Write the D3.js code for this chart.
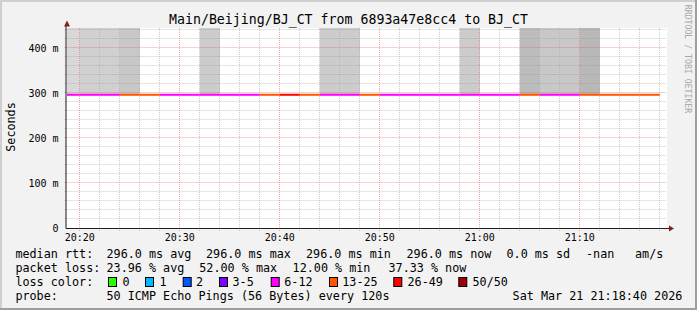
<!DOCTYPE html>
<html>
<head>
<meta charset="utf-8">
<script src="https://cdn.jsdelivr.net/npm/d3@7"></script>
<style>
  body { margin: 0; background: #fff; }
  svg { display: block; }
  text { font-family: "DejaVu Sans Mono", monospace; white-space: pre; }
</style>
</head>
<body>
<script>
// ---- data ----
const day = "2026-03-21"
const startTime = "20:18:40"
const endTime = "21:18:40"

// 2-minute steps (start of each step)
const stepStart = ["20:18", "20:20", "20:22", "20:24", "20:26", "20:28", "20:30", "20:32", "20:34", "20:36",
                   "20:38", "20:40", "20:42", "20:44", "20:46", "20:48", "20:50", "20:52", "20:54", "20:56",
                   "20:58", "21:00", "21:02", "21:04", "21:06", "21:08", "21:10", "21:12", "21:14", "21:16"]
// median rtt, seconds
const medianRtt = [0.296, 0.296, 0.296, 0.296, 0.296, 0.296, 0.296, 0.296, 0.296, 0.296,
                   0.296, 0.296, 0.296, 0.296, 0.296, 0.296, 0.296, 0.296, 0.296, 0.296,
                   0.296, 0.296, 0.296, 0.296, 0.296, 0.296, 0.296, 0.296, 0.296, 0.296]
// lost pings out of 50
const lostPings = [8, 10, 9, 14, 13, 11, 10, 6, 10, 10,
                   15, 26, 14, 9, 11, 13, 10, 8, 10, 11,
                   9, 10, 10, 16, 10, 11, 14, 15, 17, 19]
// smoke: highest ping (s, off the scale) and density (0 = none)
const smokeMax = [0.5, 0.5, 0.5, 0.5, 0, 0, 0, 0.5, 0, 0,
                  0, 0, 0, 0.5, 0.5, 0, 0, 0, 0, 0,
                  0.5, 0, 0, 0.5, 0.5, 0.5, 0.5, 0, 0, 0]
const smokeDensity = [1, 2, 2, 3, 0, 0, 0, 2.5, 0, 0,
                      0, 0, 0, 2.5, 2.5, 0, 0, 0, 0, 0,
                      2.5, 0, 0, 4.5, 3, 3, 5, 0, 0, 0]

const yTicks = [0, 0.1, 0.2, 0.3, 0.4]
const yMax = 0.4444

const lossLabels = ["0", "1", "2", "3-5", "6-12", "13-25", "26-49", "50/50"]
const lossBreaks = [1, 2, 3, 6, 13, 26, 50]
const lossColors = ["#26ff00", "#00b8ff", "#0059ff", "#7e00ff", "#ff00ff", "#ff5500", "#ff0000", "#a10000"]

const titleText = "Main/Beijing/BJ_CT from 6893a47e8cc4 to BJ_CT"
const yLabel = "Seconds"
const watermark = "RRDTOOL / TOBI OETIKER"
const rttRow = ["median rtt:", "296.0 ms avg", "296.0 ms max", "296.0 ms min", "296.0 ms now", "0.0 ms sd", "-nan", "am/s"]
const lossRow = ["packet loss:", "23.96 % avg", "52.00 % max", "12.00 % min", "37.33 % now"]
const colorRowLabel = "loss color:"
const probeRow = ["probe:", "50 ICMP Echo Pings (56 Bytes) every 120s"]
const stamp = "Sat Mar 21 21:18:40 2026"

// ---- layout ----
const W = 697, H = 310
const plot = { left: 66.5, right: 666.5, top: 28, bottom: 228 }
const rttCols = [15.4, 106.5, 206, 306, 406.5, 506.5, 586, 635]
const lossCols = [15.4, 106.5, 199.3, 292.6, 388.5]
const boxCols = [108, 145, 182.7, 219, 270.7, 329, 393.3, 458.3]
const boxLabelCols = [122.5, 159.6, 196, 232.5, 284.3, 342.3, 407.5, 472.5]

const parse = d3.utcParse("%Y-%m-%d %H:%M:%S")
const toDate = s => parse(day + " " + (s.length === 5 ? s + ":00" : s))

let svg = d3.select("body").append("svg")
    .attr("width", W)
    .attr("height", H)

// background + 3D border
svg.append("rect").attr("width", W).attr("height", H).attr("fill", "#f2f2f2")
svg.append("rect").attr("width", W).attr("height", 2).attr("fill", "#cfcfcf")
svg.append("rect").attr("width", 2).attr("height", H).attr("fill", "#cfcfcf")
svg.append("rect").attr("x", W - 2).attr("width", 2).attr("height", H).attr("fill", "#9e9e9e")
svg.append("rect").attr("y", H - 2).attr("width", W).attr("height", 2).attr("fill", "#9e9e9e")

let x = d3.scaleUtc()
    .domain([toDate(startTime), toDate(endTime)])
    .range([plot.left, plot.right])

let y = d3.scaleLinear()
    .domain([0, yMax])
    .range([plot.bottom, plot.top])

let lossColor = d3.scaleThreshold().domain(lossBreaks).range(lossColors)
let smokeColor = d3.scaleLinear().domain([1, 5]).range(["#d8d8d8", "#b8b8b8"])

// canvas
svg.append("rect")
    .attr("x", plot.left + 0.5).attr("y", plot.top)
    .attr("width", plot.right - plot.left).attr("height", plot.bottom - plot.top)
    .attr("fill", "#fff")

svg.append("clipPath").attr("id", "clip")
    .append("rect")
    .attr("x", plot.left + 0.5).attr("y", plot.top)
    .attr("width", plot.right - plot.left).attr("height", plot.bottom - plot.top)

let steps = stepStart.map((s, i) => {
    let t0 = toDate(s)
    return { t0: t0, t1: d3.utcMinute.offset(t0, 2), rtt: medianRtt[i], lost: lostPings[i], smax: smokeMax[i], dens: smokeDensity[i] }
})

// smoke
svg.append("g").attr("clip-path", "url(#clip)")
    .selectAll("rect")
    .data(steps.filter(d => d.dens > 0))
    .join("rect")
    .attr("x", d => x(d.t0))
    .attr("width", d => x(d.t1) - x(d.t0))
    .attr("y", d => y(d.smax))
    .attr("height", d => y(d.rtt) - y(d.smax))
    .attr("fill", d => smokeColor(d.dens))

// grid
let grid = svg.append("g").attr("fill", "none").attr("stroke-dasharray", "1,1")
let minorT = d3.utcMinute.every(2).range(x.domain()[0], x.domain()[1])
let majorT = d3.utcMinute.every(10).range(x.domain()[0], x.domain()[1])
let px = t => Math.floor(x(t)) + 0.5
let py = v => Math.floor(y(v)) + 0.5

grid.selectAll(".vmin").data(minorT.filter(t => t.getUTCMinutes() % 10 !== 0))
    .join("line").attr("class", "vmin")
    .attr("x1", px).attr("x2", px).attr("y1", plot.top).attr("y2", plot.bottom + 3)
    .attr("stroke", "rgba(143,143,143,0.45)")

let hMinor = d3.range(1, 23).map(i => i * 0.02).filter(v => Math.round(v * 100) % 10 !== 0)
grid.selectAll(".hmin").data(hMinor)
    .join("line").attr("class", "hmin")
    .attr("x1", plot.left - 2).attr("x2", plot.right).attr("y1", py).attr("y2", py)
    .attr("stroke", "rgba(143,143,143,0.45)")

grid.selectAll(".vmaj").data(majorT)
    .join("line").attr("class", "vmaj")
    .attr("x1", px).attr("x2", px).attr("y1", plot.top).attr("y2", plot.bottom + 3)
    .attr("stroke", "rgba(222,79,79,0.5)")

grid.selectAll(".hmaj").data(yTicks.filter(v => v > 0))
    .join("line").attr("class", "hmaj")
    .attr("x1", plot.left - 2).attr("x2", plot.right).attr("y1", py).attr("y2", py)
    .attr("stroke", "rgba(222,79,79,0.5)")

// median line coloured by loss
svg.append("g").attr("clip-path", "url(#clip)")
    .selectAll("line")
    .data(steps)
    .join("line")
    .attr("x1", d => x(d.t0))
    .attr("x2", d => x(d.t1))
    .attr("y1", d => y(d.rtt))
    .attr("y2", d => y(d.rtt))
    .attr("stroke", d => lossColor(d.lost))
    .attr("stroke-width", 2)

// axes
svg.append("line")
    .attr("x1", plot.left - 0.5).attr("x2", plot.left - 0.5)
    .attr("y1", 26).attr("y2", plot.bottom + 0.5)
    .attr("stroke", "#1f1f1f")
svg.append("line")
    .attr("x1", plot.left - 0.5).attr("x2", 669)
    .attr("y1", plot.bottom + 0.5).attr("y2", plot.bottom + 0.5)
    .attr("stroke", "#1f1f1f")
svg.append("path").attr("d", "M64,26.5L70,26.5L67,20.5Z").attr("fill", "#801f1f")
svg.append("path").attr("d", "M669,225.5L669,231.5L674,228.5Z").attr("fill", "#801f1f")

// tick labels
svg.append("g").selectAll("text")
    .data(majorT)
    .join("text")
    .attr("x", d => x(d))
    .attr("y", 241)
    .attr("text-anchor", "middle")
    .attr("font-size", 10)
    .text(d3.utcFormat("%H:%M"))

svg.append("g").selectAll("text")
    .data(yTicks)
    .join("text")
    .attr("x", 58.5)
    .attr("y", d => y(d) + 4)
    .attr("text-anchor", "end")
    .attr("font-size", 10)
    .text(d => d === 0 ? "0" : Math.round(d * 1000) + " m")

// title, axis label, watermark
svg.append("text").attr("x", W / 2).attr("y", 23.5)
    .attr("text-anchor", "middle").attr("font-size", 13.25).text(titleText)

svg.append("text").attr("transform", "translate(15,127) rotate(-90)")
    .attr("text-anchor", "middle").attr("font-size", 11.75).text(yLabel)

svg.append("text").attr("transform", "translate(684.5,59) rotate(90)")
    .attr("text-anchor", "middle").attr("font-size", 8.2).attr("fill", "#a8a8a8").text(watermark)

// legend
let legend = svg.append("g").attr("font-size", 11.75)

legend.selectAll(".rtt").data(rttRow).join("text").attr("class", "rtt")
    .attr("x", (d, i) => rttCols[i]).attr("y", 258).text(d => d)

legend.selectAll(".loss").data(lossRow).join("text").attr("class", "loss")
    .attr("x", (d, i) => lossCols[i]).attr("y", 272).text(d => d)

legend.append("text").attr("x", 15.4).attr("y", 286).text(colorRowLabel)

legend.selectAll(".box").data(lossLabels).join("rect").attr("class", "box")
    .attr("x", (d, i) => boxCols[i] + 0.5).attr("y", 277.5)
    .attr("width", 8).attr("height", 9)
    .attr("fill", (d, i) => lossColors[i])
    .attr("stroke", "#000")

legend.selectAll(".boxlab").data(lossLabels).join("text").attr("class", "boxlab")
    .attr("x", (d, i) => boxLabelCols[i]).attr("y", 286).text(d => d)

legend.append("text").attr("x", 15.4).attr("y", 300).text(probeRow[0])
legend.append("text").attr("x", 106.5).attr("y", 300).text(probeRow[1])
legend.append("text").attr("x", 512.6).attr("y", 300).text(stamp)
</script>
</body>
</html>
